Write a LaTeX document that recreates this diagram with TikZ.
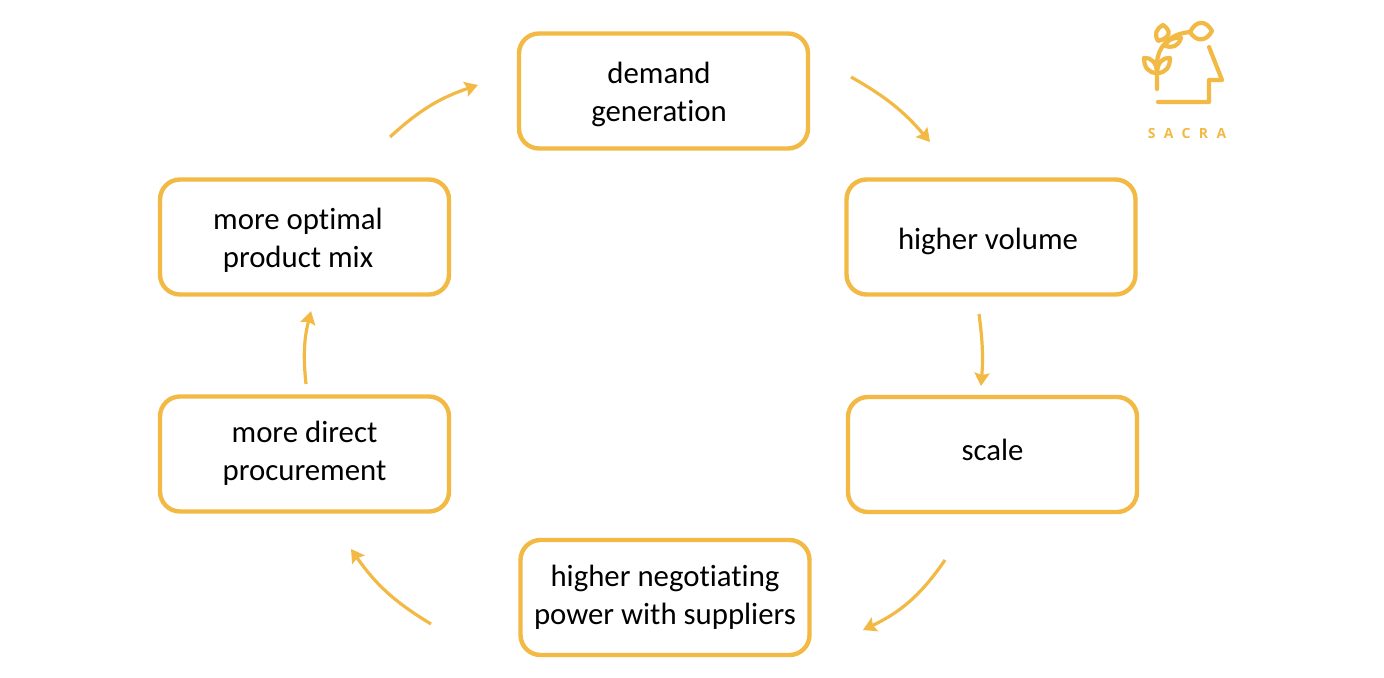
\documentclass[tikz,border=0pt]{standalone}
\usepackage{fontspec}
\setmainfont{Carlito}[Ligatures=NoCommon]
\newfontfamily\logofont[LetterSpace=60]{Open Sans}
\definecolor{sacra}{HTML}{F2B945}
\usetikzlibrary{arrows.meta}
\tikzset{
  x=0.5pt,y=-0.5pt,
  cyclebox/.style={draw=sacra,line width=2.2pt,rounded corners=10pt,minimum width=144.5pt,minimum height=57.5pt,
    inner sep=0pt,fill=white},
  cyclelabel/.style={align=center,text=black,font=\fontsize{15.4pt}{19pt}\selectfont,inner sep=0pt},
  cyclearrow/.style={draw=sacra,line width=1.6pt,-{Stealth[inset=1pt,length=6.5pt,width=7.5pt]}},
  logoline/.style={draw=sacra,line width=2.1pt,line cap=round,line join=round},
}
\begin{document}
\begin{tikzpicture}
\useasboundingbox (0,0) rectangle (1384,678);
% rounded boxes
\node[cyclebox] (demand) at (663.5,91) {};
\node[cyclebox] (volume) at (991,237) {};
\node[cyclebox] (scale) at (992.5,454.5) {};
\node[cyclebox] (power) at (665,597.5) {};
\node[cyclebox] (direct) at (304.5,454) {};
\node[cyclebox] (mix) at (304.5,237) {};
% box captions
\node[cyclelabel] (demandtext) at (659,94) {demand\\generation};
\node[cyclelabel] (volumetext) at (988,241) {higher volume};
\node[cyclelabel] (scaletext) at (992.5,449.5) {scale};
\node[cyclelabel] (powertext) at (665,597.5) {higher negotiating\\power with suppliers};
\node[cyclelabel] (directtext) at (304.5,453) {more direct\\procurement};
\node[cyclelabel] (mixtext) at (298,240) {more optimal\\product mix};

% free arrow ends sit a little way off the boxes
\coordinate (a1s) at (851,77);   \coordinate (a1e) at (930,142);
\coordinate (a2s) at (979,314);  \coordinate (a2e) at (981,386);
\coordinate (a3s) at (945,560);  \coordinate (a3e) at (863,630);
\coordinate (a4s) at (431,624);  \coordinate (a4e) at (351,549);
\coordinate (a5s) at (306,384);  \coordinate (a5e) at (311,311);
\coordinate (a6s) at (390,137);  \coordinate (a6e) at (478,85);
\draw[cyclearrow] (a1s) to[bend left=10] (a1e);
\draw[cyclearrow] (a2s) to[bend left=6] (a2e);
\draw[cyclearrow] (a3s) to[bend left=15] (a3e);
\draw[cyclearrow] (a4s) to[bend left=12] (a4e);
\draw[cyclearrow] (a5s) to[bend left=10] (a5e);
\draw[cyclearrow] (a6s) to[bend left=12] (a6e);

% logo: head outline
\draw[logoline] (1209,47) -- (1222,80) -- (1209,80) -- (1209,102) -- (1158,102);
% logo: stem
\draw[logoline] (1157,89) -- (1157,62) .. controls (1158,48) and (1168,34) .. (1190,32);
% logo: leaves
\draw[logoline] (1190,32) .. controls (1196,20) and (1206,20) .. (1212,31) .. controls (1206,42) and (1196,42) .. (1190,32);
\draw[logoline] (1163,25) .. controls (1172,31) and (1170,38) .. (1158,41) .. controls (1154,34) and (1156,29) .. (1163,25);
\draw[logoline] (1181,38) .. controls (1178,47) and (1172,48) .. (1165,46) .. controls (1167,40) and (1173,37) .. (1181,38);
\draw[logoline] (1144,58) .. controls (1151,57) and (1157,63) .. (1157,73) .. controls (1148,73) and (1144,67) .. (1144,58);
\draw[logoline] (1170,58) .. controls (1163,57) and (1157,63) .. (1157,73) .. controls (1166,73) and (1170,67) .. (1170,58);
\node[text=sacra,font=\logofont\bfseries\fontsize{7pt}{8pt}\selectfont,inner sep=0pt] (logotext) at (1187,133.5) {SACRA};
\end{tikzpicture}
\end{document}
